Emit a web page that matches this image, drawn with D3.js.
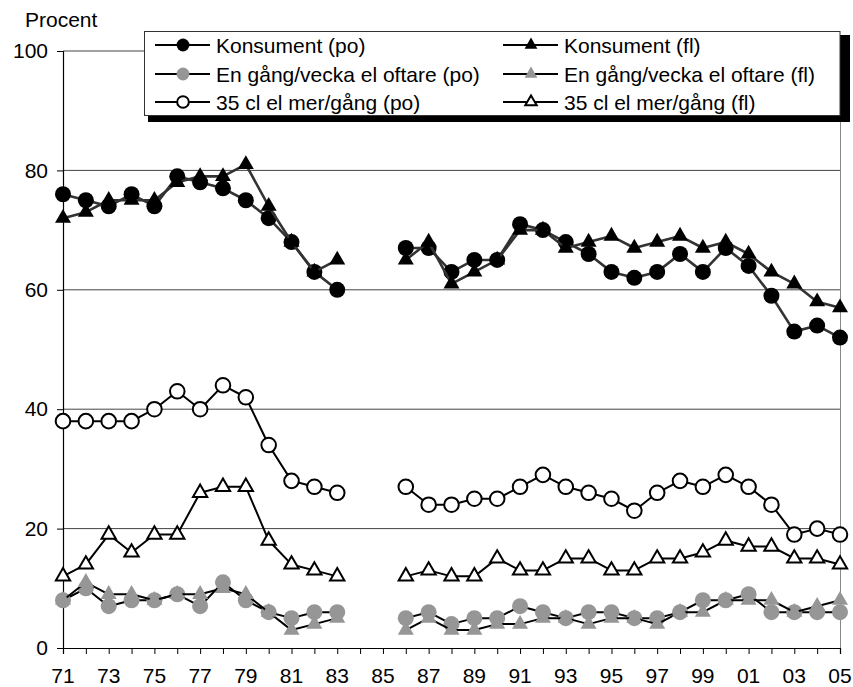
<!DOCTYPE html>
<html>
<head>
<meta charset="utf-8">
<script src="https://cdn.jsdelivr.net/npm/d3@7"></script>
<style>
  html, body { margin: 0; padding: 0; background: #fff; }
  svg { display: block; }
  text { font-family: "Liberation Sans", Arial, Helvetica, sans-serif; fill: #000; }
</style>
</head>
<body>
<svg id="chart" width="853" height="687"></svg>
<script>
// ---------- data ----------
const years = [1971,1972,1973,1974,1975,1976,1977,1978,1979,1980,1981,1982,1983,1984,1985,
               1986,1987,1988,1989,1990,1991,1992,1993,1994,1995,1996,1997,1998,1999,2000,
               2001,2002,2003,2004,2005];
const tickYears = [1971,1973,1975,1977,1979,1981,1983,1985,1987,1989,1991,1993,1995,1997,1999,2001,2003,2005];
const tickLabels = ["71","73","75","77","79","81","83","85","87","89","91","93","95","97","99","01","03","05"];
const yTicks = [0, 20, 40, 60, 80, 100];

const konsumentPo = [76,75,74,76,74,79,78,77,75,72,68,63,60,null,null,
                     67,67,63,65,65,71,70,68,66,63,62,63,66,63,67,64,59,53,54,52];
const konsumentFl = [72,73,75,75,75,78,79,79,81,74,68,63,65,null,null,
                     65,68,61,63,65,70,70,67,68,69,67,68,69,67,68,66,63,61,58,57];
const veckaPo     = [8,10,7,8,8,9,7,11,8,6,5,6,6,null,null,
                     5,6,4,5,5,7,6,5,6,6,5,5,6,8,8,9,6,6,6,6];
const veckaFl     = [8,11,9,9,8,9,9,10,9,6,3,4,5,null,null,
                     3,5,3,3,4,4,5,5,4,5,5,4,6,6,8,8,8,6,7,8];
const clPo        = [38,38,38,38,40,43,40,44,42,34,28,27,26,null,null,
                     27,24,24,25,25,27,29,27,26,25,23,26,28,27,29,27,24,19,20,19];
const clFl        = [12,14,19,16,19,19,26,27,27,18,14,13,12,null,null,
                     12,13,12,12,15,13,13,15,15,13,13,15,15,16,18,17,17,15,15,14];

const seriesNames = ["Konsument (po)","Konsument (fl)","En gång/vecka el oftare (po)",
                     "En gång/vecka el oftare (fl)","35 cl el mer/gång (po)","35 cl el mer/gång (fl)"];
const yTitle = "Procent";

// ---------- styles ----------
const styles = [
  {vals: konsumentPo, shape: "circle",   fill: "#000",    stroke: "none", line: "#333", lw: 2.6},
  {vals: konsumentFl, shape: "triangle", fill: "#000",    stroke: "none", line: "#333", lw: 2.6},
  {vals: veckaPo,     shape: "circle",   fill: "#969696", stroke: "none", line: "#000", lw: 2},
  {vals: veckaFl,     shape: "triangle", fill: "#969696", stroke: "none", line: "#000", lw: 2},
  {vals: clPo,        shape: "circle",   fill: "#fff",    stroke: "#000", line: "#000", lw: 2},
  {vals: clFl,        shape: "triangle", fill: "#fff",    stroke: "#000", line: "#000", lw: 2}
];

const svg = d3.select("#chart");
const x = d3.scaleLinear().domain([1971, 2005]).range([63, 840]);
const y = d3.scaleLinear().domain([0, 100]).range([648, 51]);
const FS = 21;

// gridlines
svg.append("g").selectAll("line").data(yTicks.filter(d => d > 0)).join("line")
  .attr("x1", x(1971)).attr("x2", x(2005))
  .attr("y1", d => y(d)).attr("y2", d => y(d))
  .attr("stroke", "#444").attr("stroke-width", 1);
// right border
svg.append("line").attr("x1", x(2005) + 0.5).attr("x2", x(2005) + 0.5)
  .attr("y1", y(100)).attr("y2", y(0)).attr("stroke", "#888").attr("stroke-width", 1);

// y axis
const yAxis = d3.axisLeft(y).tickValues(yTicks).tickSize(6).tickPadding(9).tickFormat(d3.format("d"));
const gy = svg.append("g").attr("transform", `translate(${x(1971)},0)`).call(yAxis);
gy.select(".domain").attr("stroke", "#000").attr("stroke-width", 1.2);
gy.selectAll(".tick line").attr("stroke", "#000");
gy.selectAll("text").attr("font-size", FS).attr("font-family", "Liberation Sans, Arial, sans-serif").attr("fill", "#000");

// x axis
const xAxis = d3.axisBottom(x).tickValues(years).tickSize(6).tickFormat(() => "");
const gx = svg.append("g").attr("transform", `translate(0,${y(0)})`).call(xAxis);
gx.select(".domain").attr("stroke", "#000").attr("stroke-width", 1.2);
gx.selectAll(".tick line").attr("stroke", "#000");
svg.append("g").selectAll("text").data(tickYears).join("text")
  .attr("x", d => x(d)).attr("y", 683)
  .attr("text-anchor", "middle").attr("font-size", FS)
  .text((d, i) => tickLabels[i]);

svg.append("text").attr("x", 25).attr("y", 27).attr("font-size", FS).text(yTitle);

// symbols
const triSize = 16 * 16 * Math.sqrt(3) / 4;
function drawMarker(g, s, cx, cy, scale) {
  if (s.shape === "circle") {
    const r = (s.stroke === "none" ? 8 : 7.3) * scale;
    g.append("circle").attr("cx", cx).attr("cy", cy).attr("r", r)
      .attr("fill", s.fill).attr("stroke", s.stroke).attr("stroke-width", s.stroke === "none" ? 0 : 2);
  } else {
    const sz = (s.stroke === "none" ? triSize : triSize * 0.8) * scale * scale;
    g.append("path").attr("d", d3.symbol(d3.symbolTriangle, sz)())
      .attr("transform", `translate(${cx},${cy})`)
      .attr("fill", s.fill).attr("stroke", s.stroke).attr("stroke-width", s.stroke === "none" ? 0 : 2)
      .attr("stroke-linejoin", "miter");
  }
}

// series
styles.forEach(s => {
  const data = years.map((yr, i) => ({yr, v: s.vals[i]}));
  const line = d3.line().defined(d => d.v != null).x(d => x(d.yr)).y(d => y(d.v));
  const g = svg.append("g");
  g.append("path").datum(data).attr("d", line)
    .attr("fill", "none").attr("stroke", s.line).attr("stroke-width", s.lw).attr("stroke-linejoin", "round");
  data.filter(d => d.v != null).forEach(d => drawMarker(g, s, x(d.yr), y(d.v), 1));
});

// legend
const lg = svg.append("g");
lg.append("rect").attr("x", 148).attr("y", 35).attr("width", 702).attr("height", 87).attr("fill", "#000");
lg.append("rect").attr("x", 144.5).attr("y", 31.5).attr("width", 695.5).attr("height", 84)
  .attr("fill", "#fff").attr("stroke", "#333").attr("stroke-width", 1);
const colX = [155, 503];
const rowY = [45, 74, 102];
styles.forEach((s, i) => {
  const cx = colX[i % 2], cy = rowY[Math.floor(i / 2)];
  lg.append("line").attr("x1", cx).attr("x2", cx + 55).attr("y1", cy).attr("y2", cy)
    .attr("stroke", "#000").attr("stroke-width", 2);
  drawMarker(lg, s, cx + 28, cy, 0.8);
  lg.append("text").attr("x", cx + 61).attr("y", cy + 7.5).attr("font-size", FS).text(seriesNames[i]);
});
</script>
</body>
</html>
